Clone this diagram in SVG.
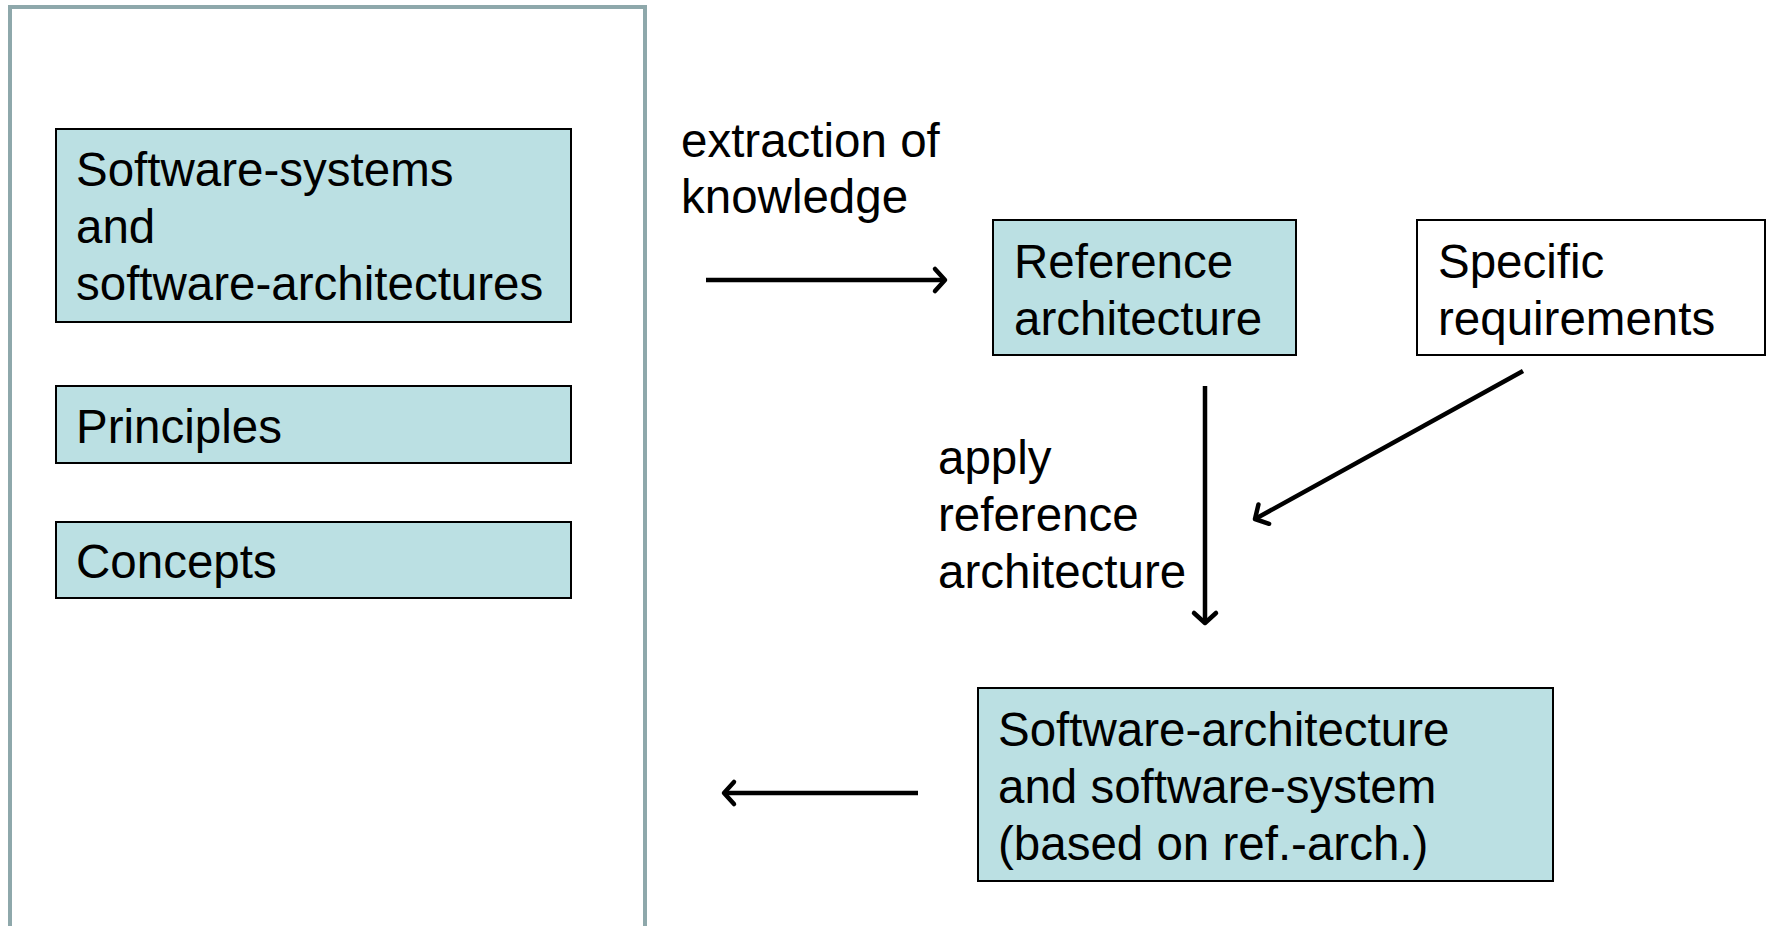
<svg xmlns="http://www.w3.org/2000/svg" width="1770" height="926" viewBox="0 0 1770 926">
<defs>
<style>
.t{font-family:"Liberation Sans",Arial,sans-serif;font-size:47.5px;fill:#000}
.box{fill:#BBE0E3;stroke:#000;stroke-width:2}
.wbox{fill:#fff;stroke:#000;stroke-width:2}
.frame{fill:#fff;stroke:#8EA8AB;stroke-width:4}
.c{stroke:#000;stroke-width:4.5;fill:none}
</style>
<marker id="arr" markerUnits="userSpaceOnUse" markerWidth="36" markerHeight="36" viewBox="-18 -18 36 36" refX="0" refY="0" orient="auto">
<path d="M -10 -11 L 0 0 L -10 11" fill="none" stroke="#000" stroke-width="4.5" stroke-linecap="round" stroke-linejoin="round"/>
</marker>
</defs>
<rect width="1770" height="926" fill="#fff"/>
<g id="frame"><rect class="frame" x="10" y="7" width="635" height="940"/></g>
<g id="n-systems"><rect class="box" x="56" y="129" width="515" height="193"/>
<text class="t" x="76" y="185.5">Software-systems</text><text class="t" x="76" y="242.5">and</text><text class="t" x="76" y="299.5">software-architectures</text></g>
<g id="n-principles"><rect class="box" x="56" y="386" width="515" height="77"/><text class="t" x="76" y="442.5">Principles</text></g>
<g id="n-concepts"><rect class="box" x="56" y="522" width="515" height="76"/><text class="t" x="76" y="577.5">Concepts</text></g>
<g id="n-refarch"><rect class="box" x="993" y="220" width="303" height="135"/>
<text class="t" x="1014" y="277.5">Reference</text><text class="t" x="1014" y="334.5">architecture</text></g>
<g id="n-specreq"><rect class="wbox" x="1417" y="220" width="348" height="135"/>
<text class="t" x="1438" y="277.5">Specific</text><text class="t" x="1438" y="334.5">requirements</text></g>
<g id="n-swarch"><rect class="box" x="978" y="688" width="575" height="193"/>
<text class="t" x="998" y="745.5">Software-architecture</text><text class="t" x="998" y="802.5">and software-system</text><text class="t" x="998" y="859.5">(based on ref.-arch.)</text></g>
<g id="connectors">
<line class="c" x1="706" y1="280" x2="945" y2="280" marker-end="url(#arr)"/>
<line class="c" x1="1205" y1="386" x2="1205" y2="623" marker-end="url(#arr)"/>
<line class="c" x1="1523" y1="371" x2="1255" y2="519" marker-end="url(#arr)"/>
<line class="c" x1="918" y1="793" x2="724" y2="793" marker-end="url(#arr)"/>
</g>
<g id="labels">
<text class="t" x="681" y="156.5">extraction of</text><text class="t" x="681" y="212.5">knowledge</text>
<text class="t" x="938" y="473.5">apply</text><text class="t" x="938" y="530.5">reference</text><text class="t" x="938" y="587.5">architecture</text>
</g>
</svg>
